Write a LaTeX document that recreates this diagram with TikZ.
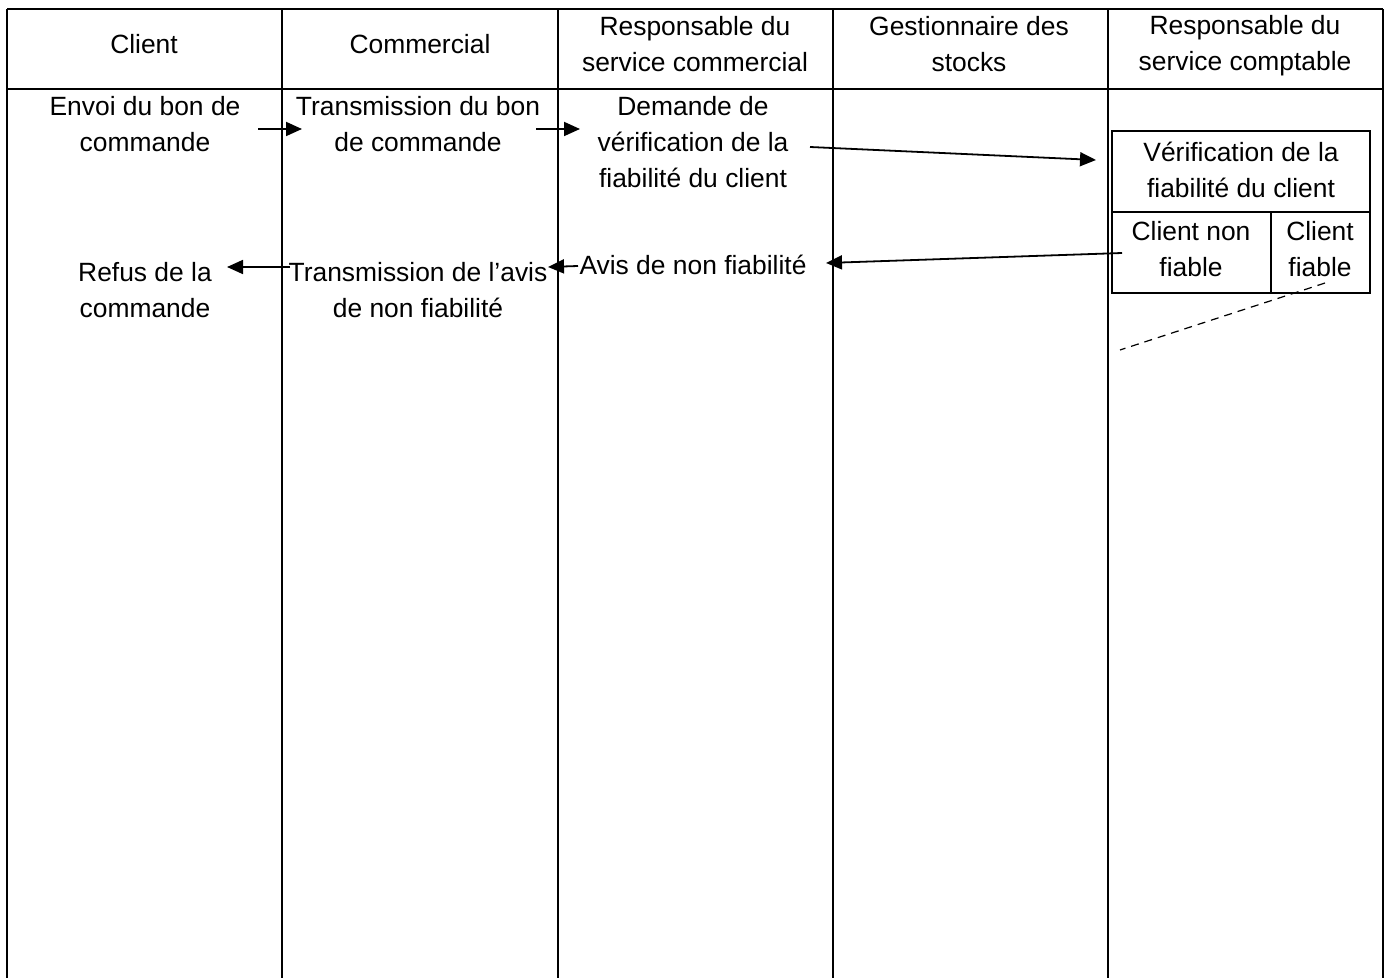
\documentclass[tikz,border=0pt]{standalone}
\usepackage{fontspec}
\setmainfont{Liberation Sans}
\usetikzlibrary{arrows.meta}
\begin{document}
\begin{tikzpicture}[x=0.5pt,y=-0.5pt,
  txt/.style={align=center,inner sep=0pt,font=\fontsize{13.2}{18}\selectfont},
  grid/.style={line width=1pt},
  flow/.style={line width=0.9pt,-{Triangle[length=8pt,width=7pt]}},
  box/.style={draw,line width=0.9pt}]
\useasboundingbox (0,0) rectangle (1385,978);
% table
\draw[grid] (7,9) -- (1383,9);
\draw[grid] (7,89) -- (1383,89);
\foreach \x in {7,282,558,833,1108,1383} \draw[grid] (\x,9) -- (\x,978);
% headers
\node[txt] (h1) at (144,44) {Client};
\node[txt] (h2) at (420,44) {Commercial};
\node[txt] (h3) at (695,44) {Responsable du\\service commercial};
\node[txt] (h4) at (969,44) {Gestionnaire des\\stocks};
\node[txt] (h5) at (1245,46) {Responsable du\\service comptable};
% body
\node[txt] (envoi) at (145,124) {Envoi du bon de\\commande};
\node[txt] (trans) at (418,124) {Transmission du bon\\de commande};
\node[txt] (dem) at (693,142) {Demande de\\vérification de la\\fiabilité du client};
\node[txt] (avis) at (693,265) {Avis de non fiabilité};
\node[txt] (transavis) at (418,290) {Transmission de l’avis\\de non fiabilité};
\node[txt] (refus) at (145,290) {Refus de la\\commande};
% verification box
\draw[box] (1112,131) rectangle (1370,293);
\draw[box] (1112,212) -- (1370,212);
\draw[box] (1271,212) -- (1271,293);
\node[txt] (verif) at (1241,170) {Vérification de la\\fiabilité du client};
\node[txt] (nonf) at (1191,249) {Client non\\fiable};
\node[txt] (fiab) at (1320,249) {Client\\fiable};
% connector end points
\coordinate (a1s) at (258,129); \coordinate (a1e) at (302,129);
\coordinate (a2s) at (536,129); \coordinate (a2e) at (580,129);
\coordinate (a3s) at (810,147); \coordinate (a3e) at (1096,160);
\coordinate (a4s) at (1122,253); \coordinate (a4e) at (826,263);
\coordinate (a5s) at (578,266); \coordinate (a5e) at (548,267);
\coordinate (a6s) at (290,267); \coordinate (a6e) at (227,267);
\coordinate (d1) at (1325,283); \coordinate (d2) at (1120,350);
\draw[flow] (a1s) -- (a1e);
\draw[flow] (a2s) -- (a2e);
\draw[flow] (a3s) -- (a3e);
\draw[flow] (a4s) -- (a4e);
\draw[flow] (a5s) -- (a5e);
\draw[flow] (a6s) -- (a6e);
\draw[line width=0.6pt,dash pattern=on 4pt off 3pt] (d1) -- (d2);
\end{tikzpicture}
\end{document}
